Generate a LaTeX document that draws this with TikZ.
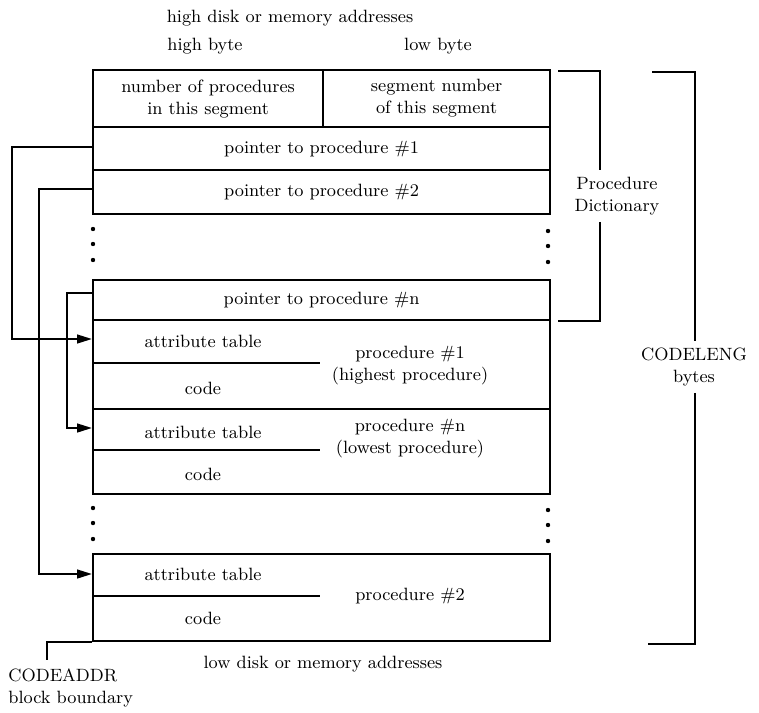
\documentclass[tikz,border=0pt]{standalone}
\usetikzlibrary{arrows.meta,calc}
\begin{document}
\begin{tikzpicture}[x=0.5pt,y=-0.5pt,
  every node/.style={font=\fontsize{8.9pt}{11pt}\selectfont, inner sep=0pt},
  cell/.style={draw, line width=1.1pt, anchor=north west, align=center},
  rule/.style={line width=1pt},
  link/.style={line width=1pt, -{Triangle[length=7.5pt,width=4.4pt]}},
  bracket/.style={line width=1pt},
  dot/.style={fill=black}]
\useasboundingbox (0,0) rectangle (759,712);

% address labels
\node (hiaddr) at (290,18) {high disk or memory addresses};
\node (hibyte) at (205,46) {high byte};
\node (lobyte) at (438,46) {low byte};
\node (loaddr) at (323,664) {low disk or memory addresses};

% segment header and procedure dictionary
\node[cell, minimum width=115pt, minimum height=28.5pt] (hdrl) at (92,69) {number of procedures\\in this segment};
\node[cell, minimum width=113.5pt, minimum height=28.5pt] (hdrr) at (322,69) {segment number\\of this segment};
\node[cell, minimum width=228.5pt, minimum height=21.5pt] (p1) at (92,126) {pointer to procedure \#1};
\node[cell, minimum width=228.5pt, minimum height=22pt] (p2) at (92,169) {pointer to procedure \#2};
\node[cell, minimum width=228.5pt, minimum height=20pt] (pn) at (92,279) {pointer to procedure \#n};

% procedure bodies
\node[cell, minimum width=228.5pt, minimum height=44.5pt] (pr1) at (92,319) {};
\node[cell, minimum width=228.5pt, minimum height=42.5pt] (prn) at (92,408) {};
\node[cell, minimum width=228.5pt, minimum height=43.5pt] (pr2) at (92,553) {};

\node (pr1a) at (203,341) {attribute table};
\coordinate (pr1s) at (320,363);
\draw[rule] (pr1s -| pr1.west) -- (pr1s);
\node (pr1c) at (203,388) {code};
\node[align=center] (pr1n) at (410,366) {procedure \#1\\(highest procedure)};

\node (prna) at (203,432) {attribute table};
\coordinate (prns) at (320,450);
\draw[rule] (prns -| prn.west) -- (prns);
\node (prnc) at (203,474) {code};
\node[align=center] (prnn) at (410,439) {procedure \#n\\(lowest procedure)};

\node (pr2a) at (203,574) {attribute table};
\coordinate (pr2s) at (320,596);
\draw[rule] (pr2s -| pr2.west) -- (pr2s);
\node (pr2c) at (203,618) {code};
\node (pr2n) at (410,596) {procedure \#2};

% continuation dots
\foreach \y in {229,244,260} {
  \fill[dot] (93,\y) circle (1.1pt);
  \fill[dot] (548,\y+2) circle (1.1pt);
}
\foreach \y in {508,523,539} {
  \fill[dot] (93,\y) circle (1.1pt);
  \fill[dot] (548,\y+2) circle (1.1pt);
}

% pointers from the dictionary to the procedures
\coordinate (e1) at ($(pr1.north west)+(0,20)$);
\coordinate (en) at ($(prn.north west)+(0,20)$);
\coordinate (e2) at ($(pr2.north west)+(0,21)$);
\coordinate (s1) at ($(p1.north west)+(0,21)$);
\coordinate (s2) at ($(p2.north west)+(0,20)$);
\coordinate (sn) at ($(pn.north west)+(0,14)$);
\draw[link] (s1) -| ($(e1)+(-80,0)$) -- (e1);
\draw[link] (s2) -| ($(e2)+(-53,0)$) -- (e2);
\draw[link] (sn) -| ($(en)+(-25,0)$) -- (en);

% block boundary
\node[anchor=west, align=left] (cab) at (8,688) {CODEADDR\\block boundary};
\coordinate (cabt) at (47,660);
\draw[rule] (pr2.south west) -| (cabt);

% procedure dictionary bracket
\node[align=center, inner ysep=3.2pt] (pd) at (617,196) {Procedure\\Dictionary};
\coordinate (pdt) at (600,71);
\coordinate (pdb) at (600,321);
\draw[bracket] ($(pdt)+(-42,0)$) -- (pdt) -- (pdt |- pd.north);
\draw[bracket] (pdt |- pd.south) -- (pdb) -- ($(pdb)+(-42,0)$);

% code length bracket
\node[align=center, inner ysep=3.2pt] (cl) at (694,367) {CODELENG\\bytes};
\coordinate (clt) at (695,72);
\coordinate (clb) at (695,644);
\draw[bracket] ($(clt)+(-43,0)$) -- (clt) -- (clt |- cl.north);
\draw[bracket] (clt |- cl.south) -- (clb) -- ($(clb)+(-47,0)$);
\end{tikzpicture}
\end{document}
